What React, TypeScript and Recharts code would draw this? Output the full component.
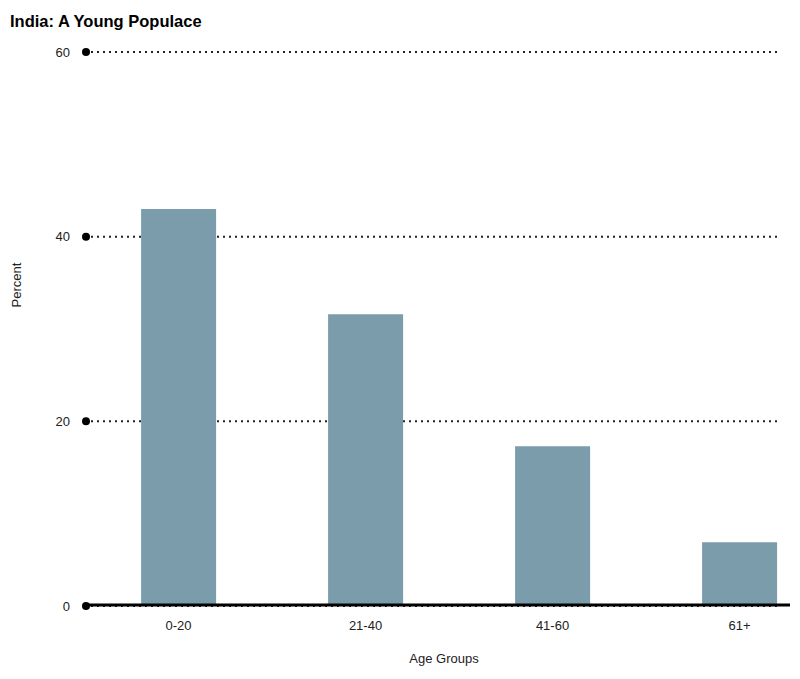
import React from 'react';
import { BarChart, Bar, XAxis, YAxis, CartesianGrid, ReferenceLine } from 'recharts';

const ageGroups = ['0-20', '21-40', '41-60', '61+'];
const percentValues = [43, 31.6, 17.3, 6.9];
const yTicks = [0, 20, 40, 60];

const data = ageGroups.map((g, i) => ({ group: g, percent: percentValues[i] }));

const FONT = '"Liberation Sans", Arial, sans-serif';

const YTick = (props: any) => {
  const { y, payload } = props;
  return (
    <g>
      <text x={70} y={y} dy="0.36em" textAnchor="end" fontSize={13} fontFamily={FONT} fill="#222">
        {payload.value}
      </text>
      <circle cx={86} cy={y} r={4} fill="#000" />
    </g>
  );
};

const gridLine = (props: any) => {
  const { x1, y1, y2, key } = props;
  return (
    <line
      key={key}
      x1={x1}
      x2={777}
      y1={y1}
      y2={y2}
      stroke="#222"
      strokeWidth={2}
      strokeDasharray="2 4"
    />
  );
};

const baseLine = (props: any) => {
  const { x1, y1 } = props;
  return <line x1={x1} x2={790} y1={y1 - 1} y2={y1 - 1} stroke="#000" strokeWidth={3} />;
};

export default function App() {
  return (
    <div style={{ position: 'absolute', left: 0, top: 0, width: 800, height: 679, overflow: 'hidden', background: '#fff' }}>
      <svg width={800} height={40} style={{ position: 'absolute', left: 0, top: 0 }}>
        <text x={10} y={27} fontSize={16.5} fontWeight="bold" fontFamily={FONT} fill="#000">
          India: A Young Populace
        </text>
      </svg>
      <div style={{ position: 'absolute', left: 0, top: 0 }}>
        <BarChart
          width={840}
          height={679}
          data={data}
          margin={{ top: 52, right: 7, bottom: 13, left: 0 }}
          barCategoryGap="30%"
        >
          <CartesianGrid vertical={false} horizontal={gridLine} />
          <XAxis
            dataKey="group"
            axisLine={false}
            tickLine={false}
            tickSize={6}
            tickMargin={9}
            height={60}
            tick={{ fontSize: 13, fontFamily: FONT, fill: '#222' }}
            label={() => (
              <text x={444} y={663} textAnchor="middle" fontSize={13} fontFamily={FONT} fill="#222">
                Age Groups
              </text>
            )}
          />
          <YAxis
            width={85}
            domain={[0, 60]}
            ticks={yTicks}
            axisLine={false}
            tickLine={false}
            tick={<YTick />}
            label={() => (
              <text
                x={16}
                y={285}
                transform="rotate(-90 16 285)"
                textAnchor="middle"
                dy="0.36em"
                fontSize={13}
                fontFamily={FONT}
                fill="#222"
              >
                Percent
              </text>
            )}
          />
          <Bar dataKey="percent" fill="#7b9dab" isAnimationActive={false} />
          <ReferenceLine y={0} shape={baseLine} />
        </BarChart>
      </div>
    </div>
  );
}
